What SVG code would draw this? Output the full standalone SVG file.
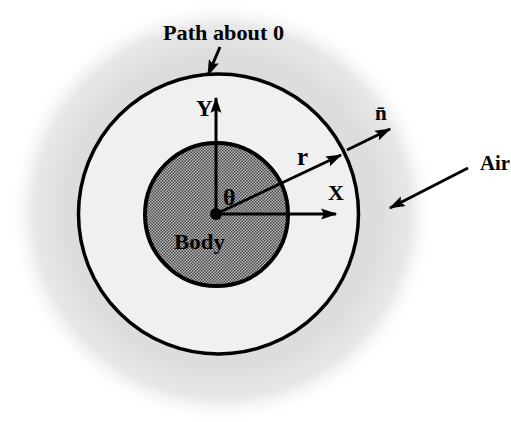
<svg xmlns="http://www.w3.org/2000/svg" width="511" height="422" viewBox="0 0 511 422">
  <defs>
    <style>
      .lbl { font-family: "Liberation Serif", "Times New Roman", serif; font-weight: bold; fill: #000; }
      .conn { stroke: #000; stroke-width: 3; fill: none; }
    </style>
    <radialGradient id="cloud" cx="0.5" cy="0.5" r="0.5">
      <stop offset="0" stop-color="#e2e2e2"/>
      <stop offset="0.72" stop-color="#dcdcdc"/>
      <stop offset="0.88" stop-color="#e8e8e8"/>
      <stop offset="1" stop-color="#ffffff" stop-opacity="0"/>
    </radialGradient>
    <pattern id="dither" width="3" height="3" patternUnits="userSpaceOnUse">
      <rect width="3" height="3" fill="#bdbdbd"/>
      <rect x="0" y="0" width="1.5" height="1.5" fill="#444"/>
      <rect x="1.5" y="1.5" width="1.5" height="1.5" fill="#444"/>
    </pattern>
    <marker id="arrow" viewBox="0 0 12 10" refX="11" refY="5" markerWidth="6" markerHeight="4.5" orient="auto" markerUnits="strokeWidth">
      <path d="M0,1 L12,5 L0,9 L2,5 Z" fill="#000"/>
    </marker>
  </defs>

  <rect width="511" height="422" fill="#ffffff"/>

  <g id="air">
    <ellipse cx="222" cy="212" rx="214" ry="212" fill="url(#cloud)"/>
  </g>

  <g id="path-about-0">
    <circle cx="218.5" cy="214" r="140" fill="#f0f0f0" stroke="#000" stroke-width="3.5"/>
  </g>

  <g id="body">
    <circle cx="216.5" cy="214.5" r="71.5" fill="url(#dither)" stroke="#000" stroke-width="4"/>
  </g>

  <g id="origin">
    <circle cx="216" cy="214" r="6" fill="#000"/>
  </g>

  <g id="connectors">
    <line class="conn" x1="216" y1="214" x2="216" y2="98" marker-end="url(#arrow)"/>
    <line class="conn" x1="216" y1="214" x2="336" y2="214" marker-end="url(#arrow)"/>
    <line class="conn" x1="216" y1="214" x2="341" y2="155" marker-end="url(#arrow)"/>
    <line class="conn" x1="347" y1="150" x2="390" y2="129" marker-end="url(#arrow)"/>
    <line class="conn" x1="220" y1="47" x2="208" y2="75" marker-end="url(#arrow)"/>
    <line class="conn" x1="468" y1="168" x2="390" y2="208" marker-end="url(#arrow)"/>
  </g>

  <g id="labels">
    <text class="lbl" x="163" y="40" font-size="22" textLength="121" lengthAdjust="spacingAndGlyphs">Path about 0</text>
    <text class="lbl" x="196" y="116" font-size="23">Y</text>
    <text class="lbl" x="328" y="200" font-size="22">X</text>
    <text class="lbl" x="297" y="165" font-size="25">r</text>
    <text class="lbl" x="223" y="205" font-size="24">θ</text>
    <text class="lbl" x="174" y="249" font-size="22" textLength="51" lengthAdjust="spacingAndGlyphs">Body</text>
    <text class="lbl" x="375" y="120" font-size="21">n̄</text>
    <text class="lbl" x="480" y="170" font-size="22" textLength="30" lengthAdjust="spacingAndGlyphs">Air</text>
  </g>
</svg>
